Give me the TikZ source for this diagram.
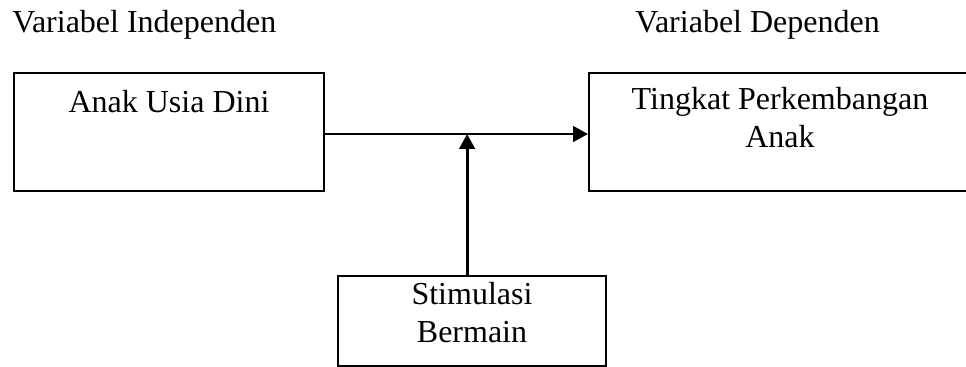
\documentclass[tikz,border=0pt]{standalone}
\usepackage{fontspec}
\setmainfont{Liberation Serif}
\usetikzlibrary{arrows.meta}

\begin{document}
\begin{tikzpicture}[
    x=0.45pt, y=-0.45pt,
    varBox/.style={draw, line width=0.9pt, inner sep=0pt, anchor=north west},
    boxText/.style={anchor=base, align=center, inner sep=0pt,
        font=\fontsize{14.4}{17.1}\selectfont},
    headText/.style={anchor=base west, inner sep=0pt, font=\fontsize{14.4}{17}\selectfont},
    link/.style={-{Triangle[length=6.75pt, width=7pt]}, line width=1.3pt},
    every node/.style={
        text centered,
        }
        ]
    \useasboundingbox (0, 0) rectangle (966, 367);

    \node[headText] (indepHead) at (12, 33) {Variabel Independen};
    \node[headText] (depHead) at (635, 33) {Variabel Dependen};

    \node[varBox, minimum width=139.5pt, minimum height=53.1pt] (anak) at (13, 72) {};
    \node[varBox, minimum width=172.8pt, minimum height=53.1pt] (tingkat) at (588, 72) {};
    \node[varBox, minimum width=120.6pt, minimum height=40.5pt] (stimulasi) at (337, 275) {};

    % base of a multi-line node is the last line
    \node[boxText] (anakText) at (anak.north |- 0, 113) {Anak Usia Dini};
    \node[boxText] (tingkatText) at (780, 148) {Tingkat Perkembangan\\Anak};
    \node[boxText] (stimulasiText) at (stimulasi.north |- 0, 342) {Stimulasi\\Bermain};

    \draw[link] ([yshift=-0.9pt]anak.east) -- ([yshift=-0.9pt]tingkat.west);
    \draw[link] ([xshift=-2.2pt]stimulasi.north) -- ([xshift=-2.2pt, yshift=-0.9pt]stimulasi.north |- anak.east);
\end{tikzpicture}
\end{document}
